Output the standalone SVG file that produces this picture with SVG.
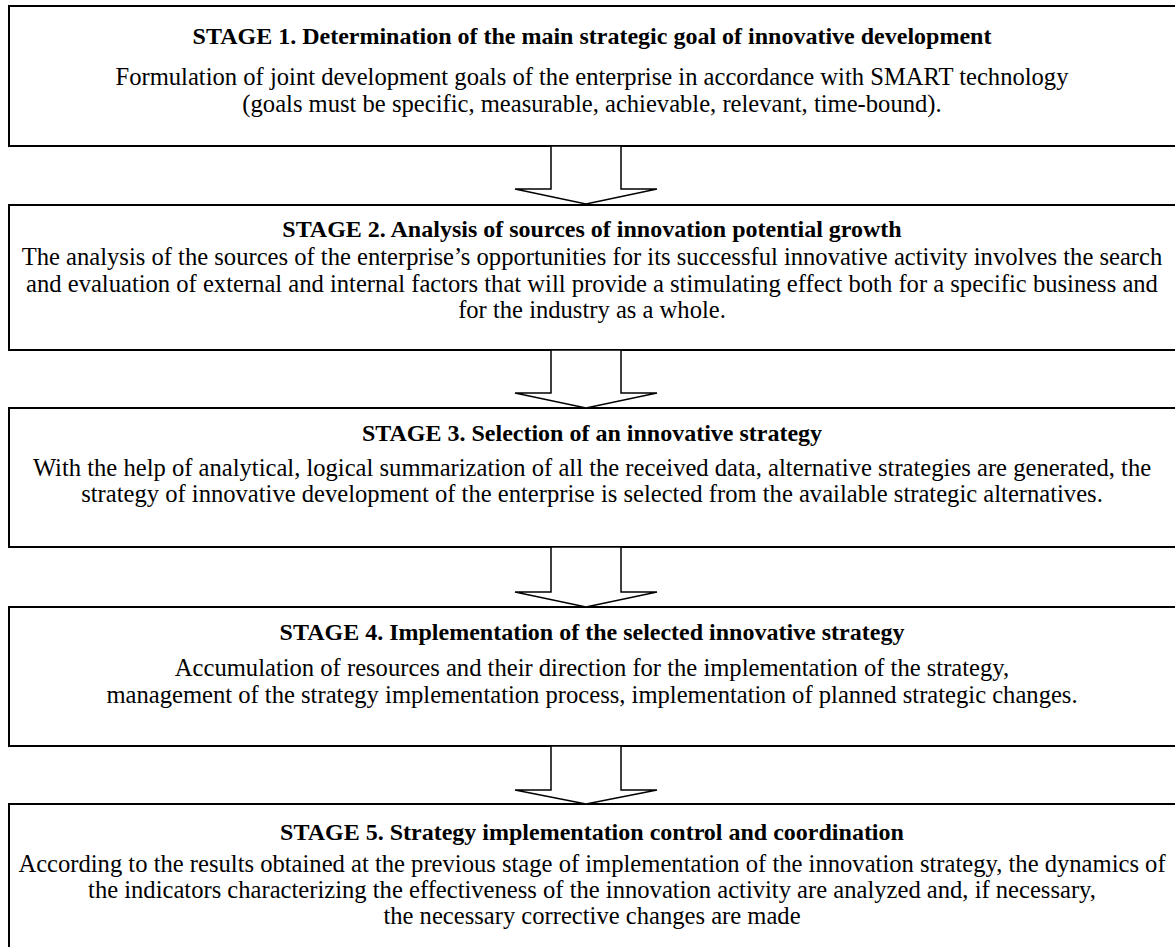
<svg xmlns="http://www.w3.org/2000/svg" width="1175" height="947" viewBox="0 0 1175 947">
<style>
.box{fill:#fff;stroke:#000;stroke-width:2}
.arr{fill:#fff;stroke:#000;stroke-width:1.5;stroke-linejoin:miter}
text{font-family:"Liberation Serif","Times New Roman",serif;font-size:24.6px;fill:#000;text-anchor:middle}
.t{font-weight:bold;font-size:24px}
</style>
<rect width="1175" height="947" fill="#fff"/>
<g id="stage1">
<rect class="box" x="9" y="6" width="1180" height="140"/>
<text class="t" x="592" y="44">STAGE 1. Determination of the main strategic goal of innovative development</text>
<text x="592" y="85">Formulation of joint development goals of the enterprise in accordance with SMART technology</text>
<text x="592" y="112">(goals must be specific, measurable, achievable, relevant, time-bound).</text>
</g>
<g id="stage2">
<rect class="box" x="9" y="205" width="1180" height="145"/>
<text class="t" x="592" y="237">STAGE 2. Analysis of sources of innovation potential growth</text>
<text x="592" y="265">The analysis of the sources of the enterprise’s opportunities for its successful innovative activity involves the search</text>
<text x="592" y="292">and evaluation of external and internal factors that will provide a stimulating effect both for a specific business and</text>
<text x="592" y="318">for the industry as a whole.</text>
</g>
<g id="stage3">
<rect class="box" x="9" y="408" width="1180" height="139"/>
<text class="t" x="592" y="441">STAGE 3. Selection of an innovative strategy</text>
<text x="592" y="476">With the help of analytical, logical summarization of all the received data, alternative strategies are generated, the</text>
<text x="592" y="502">strategy of innovative development of the enterprise is selected from the available strategic alternatives.</text>
</g>
<g id="stage4">
<rect class="box" x="9" y="607" width="1180" height="139"/>
<text class="t" x="592" y="640">STAGE 4. Implementation of the selected innovative strategy</text>
<text x="592" y="676">Accumulation of resources and their direction for the implementation of the strategy,</text>
<text x="592" y="703">management of the strategy implementation process, implementation of planned strategic changes.</text>
</g>
<g id="stage5">
<rect class="box" x="9" y="804" width="1180" height="160"/>
<text class="t" x="592" y="840">STAGE 5. Strategy implementation control and coordination</text>
<text x="592" y="872">According to the results obtained at the previous stage of implementation of the innovation strategy, the dynamics of</text>
<text x="592" y="898">the indicators characterizing the effectiveness of the innovation activity are analyzed and, if necessary,</text>
<text x="592" y="924">the necessary corrective changes are made</text>
</g>
<g id="connectors">
<polygon class="arr" points="551,146 621,146 621,189 657,189 586,204 515,189 551,189"/>
<polygon class="arr" points="551,350 621,350 621,393 657,393 586,408 515,393 551,393"/>
<polygon class="arr" points="551,547 621,547 621,592 657,592 586,607 515,592 551,592"/>
<polygon class="arr" points="551,746 621,746 621,790 657,790 586,804 515,790 551,790"/>
</g>
</svg>
